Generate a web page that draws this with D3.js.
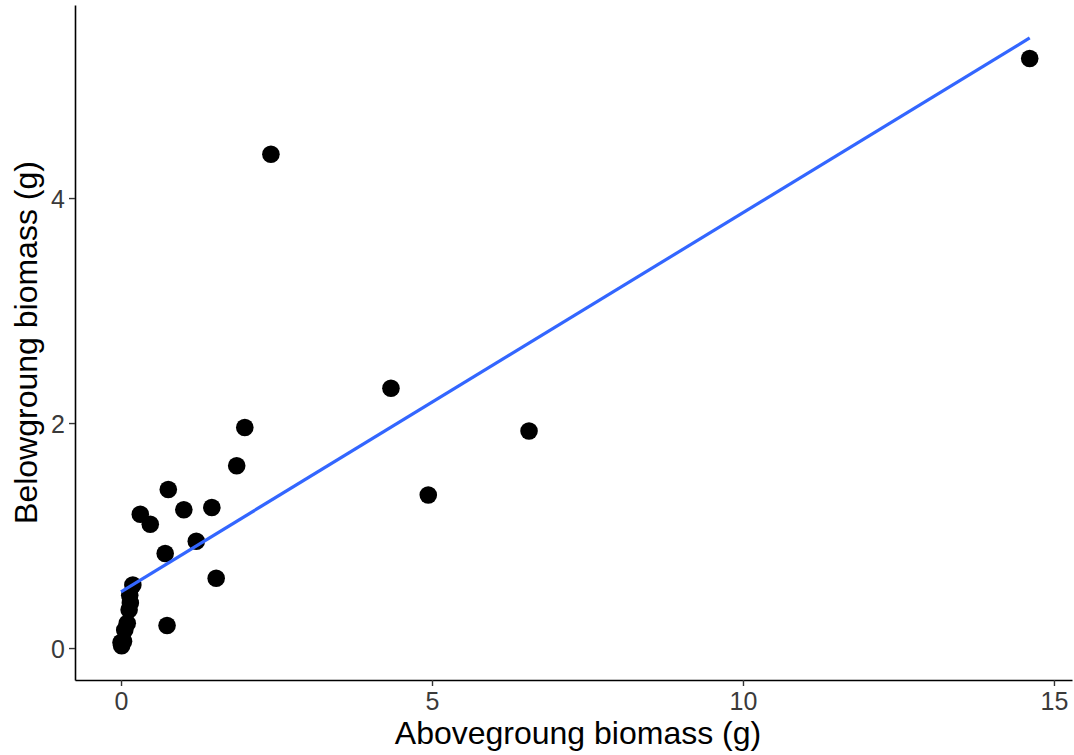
<!DOCTYPE html>
<html>
<head>
<meta charset="utf-8">
<script src="https://cdn.jsdelivr.net/npm/d3@7"></script>
<style>
  html, body { margin: 0; padding: 0; background: #fff; }
  svg { display: block; }
  text { font-family: "Liberation Sans", Arial, sans-serif; }
</style>
</head>
<body>
<svg id="chart" width="1074" height="755"></svg>
<script>
// Biomass measurements per plant (g)
const aboveground = [14.61, 2.41, 4.34, 6.56, 4.94, 1.99, 1.86, 0.76, 1.46, 1.01, 0.31, 0.47, 1.21, 0.71, 1.53, 0.74,
                     0.19, 0.14, 0.15, 0.13, 0.10, 0.06, 0.04, 0.01, 0.00];
const belowground = [5.24, 4.39, 2.31, 1.93, 1.36, 1.96, 1.62, 1.41, 1.25, 1.23, 1.19, 1.10, 0.95, 0.84, 0.62, 0.20,
                     0.56, 0.47, 0.40, 0.34, 0.22, 0.16, 0.06, 0.02, 0.05];

// Linear fit: belowground = intercept + slope * aboveground
const fitIntercept = 0.50;
const fitSlope = 0.337;

const xTicks = [0, 5, 10, 15];
const yTicks = [0, 2, 4];
const xTitle = "Abovegroung biomass (g)";
const yTitle = "Belowgroung biomass (g)";

const svg = d3.select("#chart");
const plot = { left: 75, right: 1072, top: 5, bottom: 680 };

const x = d3.scaleLinear().domain([-0.74, 15.29]).range([plot.left, plot.right]);
const y = d3.scaleLinear().domain([-0.284, 5.716]).range([plot.bottom, plot.top]);

const points = aboveground.map((a, i) => ({ a, b: belowground[i] }));

// Points
svg.append("g")
  .selectAll("circle")
  .data(points)
  .join("circle")
  .attr("cx", d => x(d.a))
  .attr("cy", d => y(d.b))
  .attr("r", 8.8)
  .attr("fill", "#000");

// Fitted line across the observed range
const xMin = d3.min(aboveground), xMax = d3.max(aboveground);
const line = d3.line().x(d => x(d)).y(d => y(fitIntercept + fitSlope * d));
svg.append("path")
  .datum([xMin, xMax])
  .attr("d", line)
  .attr("fill", "none")
  .attr("stroke", "#3366FF")
  .attr("stroke-width", 3.2);

// Axes
const xAxis = svg.append("g")
  .attr("transform", `translate(0,${plot.bottom})`)
  .call(d3.axisBottom(x).tickValues(xTicks).tickSize(6).tickSizeOuter(0).tickPadding(6).tickFormat(d3.format("d")));
const yAxis = svg.append("g")
  .attr("transform", `translate(${plot.left},0)`)
  .call(d3.axisLeft(y).tickValues(yTicks).tickSize(6).tickSizeOuter(0).tickPadding(4).tickFormat(d3.format("d")));

[xAxis, yAxis].forEach(g => {
  g.select(".domain").attr("stroke", "#000").attr("stroke-width", 1.6);
  g.selectAll(".tick line").attr("stroke", "#333").attr("stroke-width", 1.4);
  g.selectAll(".tick text")
    .attr("fill", "#3a3a3a")
    .style("font-size", "25px")
    .style("font-family", "'Liberation Sans', Arial, sans-serif");
});
yAxis.selectAll(".tick text").attr("dy", "0.36em");

// Axis titles
svg.append("text")
  .attr("x", 578)
  .attr("y", 744)
  .attr("text-anchor", "middle")
  .style("font-size", "32px")
  .attr("fill", "#000")
  .text(xTitle);

svg.append("text")
  .attr("transform", `translate(37,${(plot.top + plot.bottom) / 2}) rotate(-90)`)
  .attr("text-anchor", "middle")
  .style("font-size", "32px")
  .attr("fill", "#000")
  .text(yTitle);
</script>
</body>
</html>
